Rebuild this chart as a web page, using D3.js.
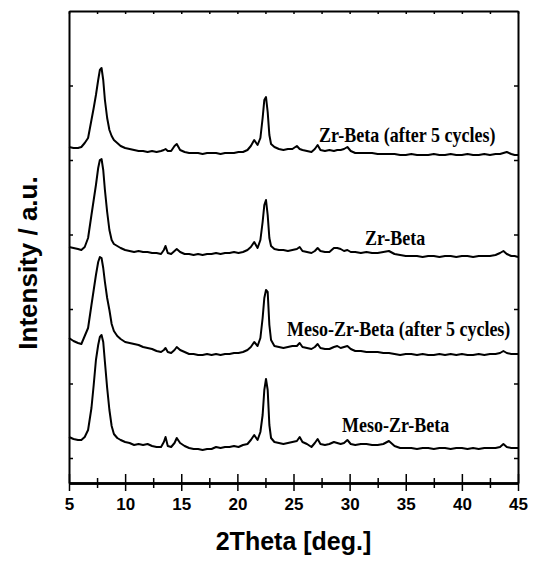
<!DOCTYPE html>
<html>
<head>
<meta charset="utf-8">
<script src="https://cdn.jsdelivr.net/npm/d3@7"></script>
<style>
  body { margin: 0; background: #fff; }
</style>
</head>
<body>
<div id="xrd"></div>
<script>
// 2theta grid (deg.) shared by all four patterns
const twoTheta = [
  5.0, 5.4, 5.8, 6.1, 6.4, 6.7, 7.0, 7.2, 7.4, 7.6,
  7.75, 7.9, 8.05, 8.2, 8.4, 8.6, 8.8, 9.0, 9.3, 9.6,
  10.0, 10.4, 10.8, 11.2, 11.6, 12.0, 12.4, 12.8, 13.2, 13.45,
  13.6, 13.8, 14.1, 14.4, 14.6, 14.9, 15.3, 15.7, 16.1, 16.5,
  16.9, 17.3, 17.7, 18.1, 18.5, 18.9, 19.3, 19.7, 20.1, 20.5,
  20.9, 21.2, 21.5, 21.8, 22.05, 22.25, 22.4, 22.55, 22.7, 22.85,
  23.0, 23.3, 23.7, 24.1, 24.5, 24.9, 25.3, 25.55, 25.8, 26.2,
  26.6, 26.9, 27.15, 27.4, 27.8, 28.2, 28.6, 28.9, 29.2, 29.5,
  29.8, 30.1, 30.5, 31.0, 31.5, 32.0, 32.5, 33.0, 33.5, 34.0,
  34.5, 35.0, 35.5, 36.0, 36.5, 37.0, 37.5, 38.0, 38.5, 39.0,
  39.5, 40.0, 40.5, 41.0, 41.5, 42.0, 42.5, 43.0, 43.4, 43.7,
  44.0, 44.4, 44.7, 45.0
];

// Intensities (a.u., already stacked)
const mesoZrBeta = [
  46, 44, 43, 43, 46, 53, 75, 98, 123, 138,
  146, 148, 141, 121, 95, 73, 57, 49, 45, 43,
  41, 40, 38, 39, 38, 39, 37, 36, 36, 41,
  46, 37, 36, 40, 45, 40, 37, 35, 34, 34,
  33, 34, 34, 36, 35, 36, 36, 37, 36, 38,
  39, 43, 48, 43, 51, 68, 93, 104, 93, 58,
  45, 41, 40, 39, 40, 41, 42, 46, 41, 39,
  36, 40, 44, 39, 38, 39, 41, 40, 39, 40,
  43, 39, 38, 39, 39, 38, 38, 39, 42, 37,
  35, 35, 35, 34, 35, 35, 34, 35, 35, 34,
  35, 35, 34, 35, 34, 35, 35, 35, 36, 39,
  36, 35, 35, 35
];

const mesoZrBetaAfter = [
  145, 142, 140, 139, 147, 155, 178, 193, 208, 221,
  226, 225, 215, 201, 185, 173, 159, 152, 147, 144,
  141, 140, 139, 138, 136, 135, 134, 132, 131, 133,
  135, 131, 130, 133, 136, 133, 131, 129, 129, 128,
  128, 129, 128, 129, 128, 129, 129, 130, 130, 131,
  133, 136, 141, 137, 145, 165, 185, 193, 191, 158,
  143, 137, 136, 135, 136, 137, 137, 140, 136, 135,
  134, 136, 139, 135, 134, 134, 136, 137, 135, 136,
  137, 134, 132, 132, 131, 131, 131, 130, 130, 129,
  128, 129, 129, 128, 129, 128, 128, 129, 128, 129,
  128, 129, 128, 128, 129, 128, 129, 129, 130, 132,
  130, 129, 129, 129
];

const zrBeta = [
  236, 235, 234, 233, 236, 245, 268, 283, 298, 315,
  323, 324, 313, 293, 271, 253, 243, 239, 237, 235,
  233, 232, 231, 232, 231, 231, 230, 230, 229, 233,
  237, 230, 229, 232, 234, 231, 229, 229, 228, 229,
  228, 229, 229, 230, 229, 230, 230, 231, 230, 231,
  233, 236, 241, 235, 243, 261, 278, 283, 268, 245,
  237, 234, 233, 233, 232, 233, 234, 236, 232, 231,
  230, 232, 235, 232, 231, 231, 235, 235, 234, 232,
  233, 231, 231, 230, 231, 230, 230, 231, 232, 229,
  228, 227, 227, 227, 226, 227, 227, 226, 227, 227,
  226, 227, 227, 226, 227, 227, 227, 228, 230, 232,
  229, 227, 227, 226
];

const zrBetaAfter = [
  336, 335, 335, 336, 340, 345, 363, 375, 388, 403,
  413, 415, 403, 383, 365, 353, 347, 343, 340, 337,
  335, 334, 333, 332, 332, 331, 332, 331, 332, 333,
  334, 332, 332, 337, 339, 333, 331, 330, 330, 330,
  329, 330, 330, 330, 329, 330, 330, 330, 331, 331,
  333, 337, 343, 338, 345, 365, 383, 386, 371, 348,
  339, 336, 334, 333, 334, 334, 337, 334, 333, 332,
  331, 334, 338, 333, 332, 333, 332, 333, 333, 334,
  336, 332, 330, 330, 330, 330, 329, 329, 329, 329,
  328, 328, 329, 328, 328, 328, 329, 328, 328, 329,
  328, 328, 329, 328, 328, 329, 328, 329, 329, 330,
  331, 329, 328, 328
];

const seriesNames = ["Meso-Zr-Beta", "Meso-Zr-Beta (after 5 cycles)", "Zr-Beta", "Zr-Beta (after 5 cycles)"];
const xTicks = [5, 10, 15, 20, 25, 30, 35, 40, 45];
const xMinorTicks = [7.5, 12.5, 17.5, 22.5, 27.5, 32.5, 37.5, 42.5];
const yTicks = [25, 99.5, 174, 248.5, 323, 397.5];

// label anchors, in data units [2theta, intensity]
const labelAt = [[29.32, 51], [24.42, 147], [31.37, 238], [27.27, 341]];

const margin = {top: 11, right: 15, bottom: 78, left: 69},
      width = 533 - margin.left - margin.right,
      height = 561 - margin.top - margin.bottom;

const svg = d3.select("#xrd")
  .append("svg")
    .attr("width", width + margin.left + margin.right)
    .attr("height", height + margin.top + margin.bottom)
  .append("g")
    .attr("transform", `translate(${margin.left},${margin.top})`);

const x = d3.scaleLinear().domain([5, 45]).range([0, width]);
const y = d3.scaleLinear().domain([0, 472]).range([height, 0]);

const allSeries = [mesoZrBeta, mesoZrBetaAfter, zrBeta, zrBetaAfter];

const line = d3.line()
    .x((d, i) => x(twoTheta[i]))
    .y(d => y(d));

svg.selectAll(".pattern")
  .data(allSeries)
  .join("path")
    .attr("class", "pattern")
    .attr("fill", "none")
    .attr("stroke", "#000")
    .attr("stroke-width", 2)
    .attr("stroke-linejoin", "round")
    .attr("d", line);

// bottom axis: major ticks crossing the line, labelled
svg.append("g")
    .attr("class", "axis")
    .attr("transform", `translate(0,${height})`)
    .call(d3.axisBottom(x).tickValues(xTicks).tickSizeInner(8).tickSizeOuter(0).tickPadding(7))
    .call(g => g.selectAll("text")
        .style("font-family", "'Liberation Sans', Arial, sans-serif")
        .style("font-weight", "bold")
        .style("font-size", "17px")
        .attr("fill", "#000"));
svg.append("g")
    .attr("class", "axis")
    .attr("transform", `translate(0,${height})`)
    .call(d3.axisTop(x).tickValues(xTicks).tickSizeInner(9).tickSizeOuter(0).tickFormat(""));
svg.append("g")
    .attr("class", "axis")
    .attr("transform", `translate(0,${height})`)
    .call(d3.axisBottom(x).tickValues(xMinorTicks).tickSizeInner(5).tickSizeOuter(0).tickFormat(""));
svg.append("g")
    .attr("class", "axis")
    .attr("transform", `translate(0,${height})`)
    .call(d3.axisTop(x).tickValues(xMinorTicks).tickSizeInner(5).tickSizeOuter(0).tickFormat(""));

// top axis: small inward ticks
svg.append("g")
    .attr("class", "axis")
    .call(d3.axisBottom(x).tickValues(xTicks.concat(xMinorTicks)).tickSizeInner(3).tickSizeOuter(0).tickFormat(""));

// left and right axes: inward ticks, no labels
svg.append("g")
    .attr("class", "axis")
    .call(d3.axisRight(y).tickValues(yTicks).tickSizeInner(4).tickSizeOuter(0).tickFormat(""));
svg.append("g")
    .attr("class", "axis")
    .attr("transform", `translate(${width},0)`)
    .call(d3.axisLeft(y).tickValues(yTicks).tickSizeInner(4).tickSizeOuter(0).tickFormat(""));

svg.selectAll(".axis .domain").attr("stroke", "#000").attr("stroke-width", 2);
svg.selectAll(".axis .tick line").attr("stroke", "#000").attr("stroke-width", 1.5);

// series labels (slightly tall, like the original)
svg.selectAll(".label")
  .data(seriesNames)
  .join("text")
    .attr("class", "label")
    .attr("transform", (d, i) => `translate(${x(labelAt[i][0])},${y(labelAt[i][1])}) scale(1,1.12)`)
    .style("font-family", "'Liberation Serif', 'Times New Roman', serif")
    .style("font-weight", "bold")
    .style("font-size", "18px")
    .text(d => d);

// X-axis title
svg.append("text")
    .attr("text-anchor", "middle")
    .attr("x", width / 2)
    .attr("y", height + 67)
    .style("font-family", "'Liberation Sans', Arial, sans-serif")
    .style("font-weight", "bold")
    .style("font-size", "25px")
    .text("2Theta [deg.]");

// Y-axis title
svg.append("text")
    .attr("text-anchor", "middle")
    .attr("transform", "rotate(-90)")
    .attr("x", -(263 - margin.top))
    .attr("y", -margin.left + 37)
    .style("font-family", "'Liberation Sans', Arial, sans-serif")
    .style("font-weight", "bold")
    .style("font-size", "26px")
    .text("Intensity / a.u.");
</script>
</body>
</html>
